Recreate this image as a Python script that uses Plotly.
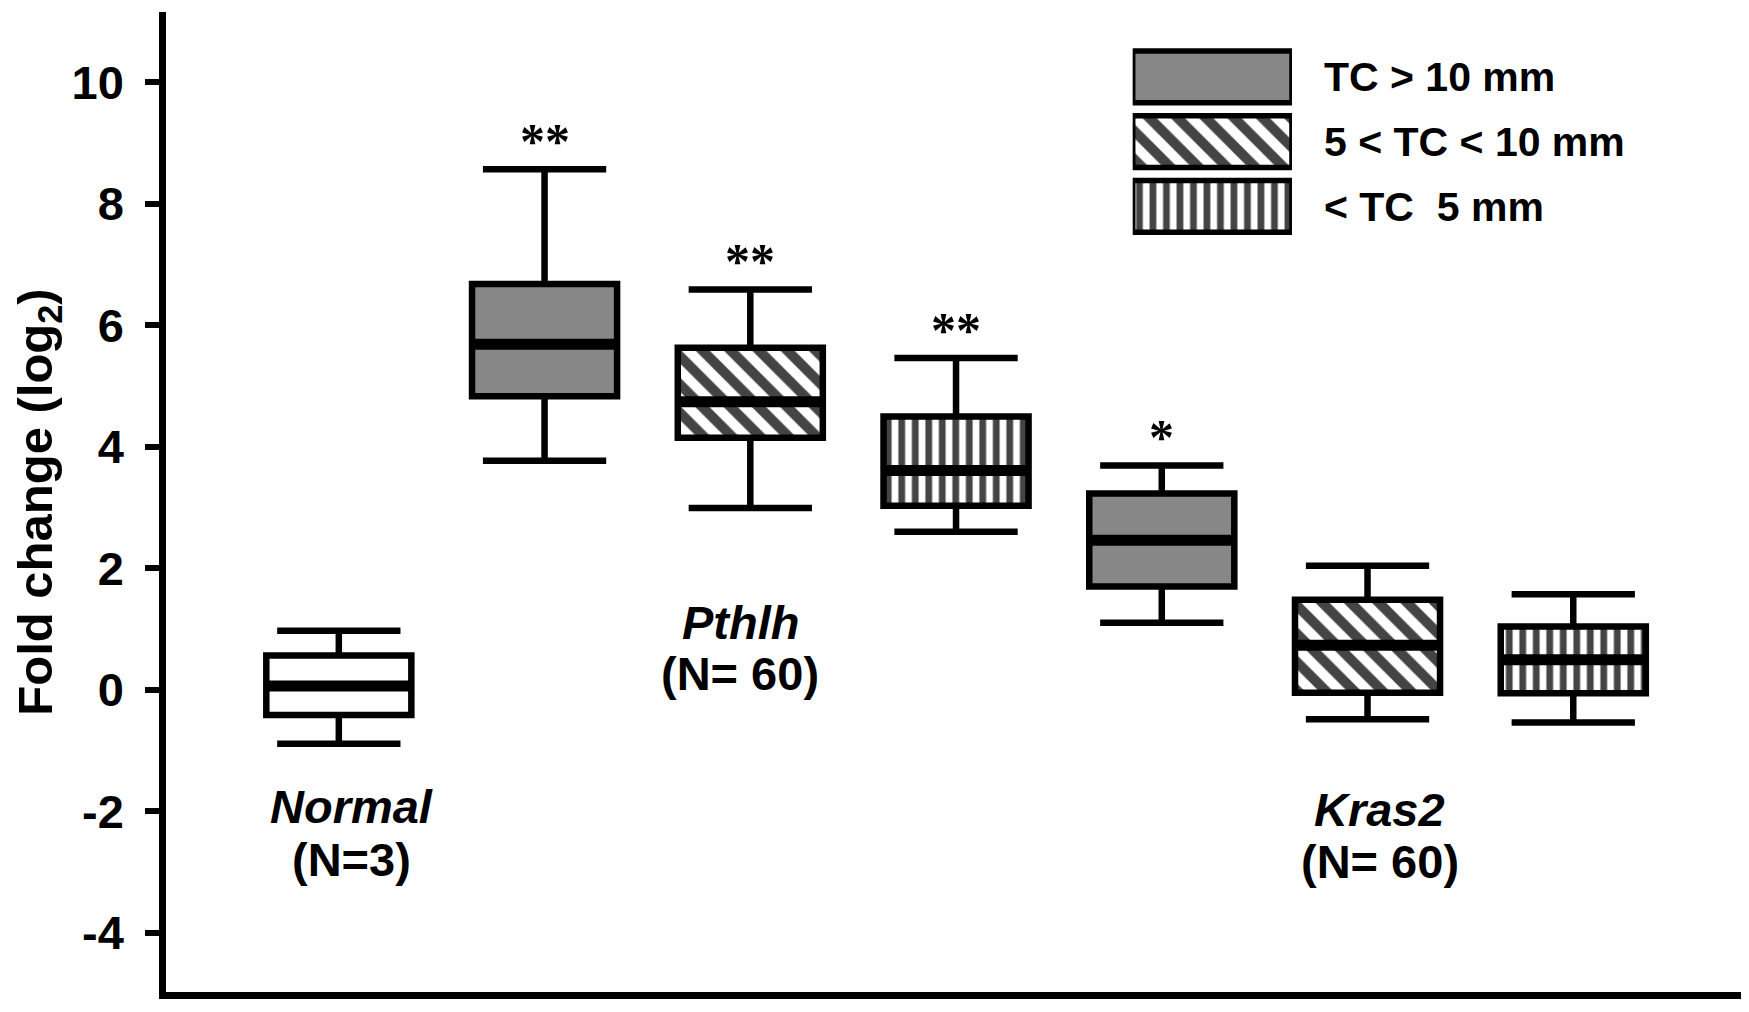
import plotly.graph_objects as go

# ---------------- data ----------------
categories = ["Normal", "Pthlh TC>10", "Pthlh 5<TC<10", "Pthlh TC<5",
              "Kras2 TC>10", "Kras2 5<TC<10", "Kras2 TC<5"]
upper_whisker = [0.97, 8.57, 6.59, 5.46, 3.69, 2.04, 1.57]
q3 = [0.56, 6.68, 5.63, 4.50, 3.23, 1.48, 1.04]
median = [0.06, 5.69, 4.74, 3.61, 2.46, 0.73, 0.49]
q1 = [-0.42, 4.83, 4.15, 3.03, 1.70, -0.05, -0.06]
lower_whisker = [-0.89, 3.77, 2.99, 2.60, 1.10, -0.49, -0.54]
size_class = ["normal", "gt10", "5to10", "lt5", "gt10", "5to10", "lt5"]
significance = ["", "**", "**", "**", "*", "", ""]

y_ticks = [-4, -2, 0, 2, 4, 6, 8, 10]

legend_keys = ["gt10", "5to10", "lt5"]
legend_labels = ["TC &gt; 10 mm", "5 &lt; TC &lt; 10 mm", "&lt; TC\u00a0 5 mm"]

group_names = ["Normal", "Pthlh", "Kras2"]
group_counts = ["(N=3)", "(N= 60)", "(N= 60)"]

# ---------------- styles ----------------
FONT = "Liberation Sans, Arial, Helvetica, sans-serif"
GREY = "#878787"
STYLE = {  # fill colour, pattern shape, pattern size
    "normal": ("white", "", 10),
    "gt10": (GREY, "", 10),
    "5to10": ("white", "\\", 20),
    "lt5": ("white", "|", 13.5),
}
BOX_W = 0.705
LINE_W = 6.5

positions = list(range(len(categories)))

fig = go.Figure()

# patterned box bodies
fig.add_trace(go.Bar(
    x=positions,
    y=[a - b for a, b in zip(q3, q1)],
    base=q1,
    width=BOX_W,
    marker=dict(
        color=[STYLE[s][0] for s in size_class],
        line=dict(width=0),
        pattern=dict(
            shape=[STYLE[s][1] for s in size_class],
            size=[STYLE[s][2] for s in size_class],
            solidity=0.5,
            fgcolor="black",
            fgopacity=1,
            fillmode="overlay",
        ),
    ),
    hoverinfo="skip",
))

# box outlines + whiskers
fig.add_trace(go.Box(
    x=positions,
    q1=q1, median=median, q3=q3,
    lowerfence=lower_whisker, upperfence=upper_whisker,
    width=BOX_W,
    whiskerwidth=0.85,
    fillcolor="rgba(0,0,0,0)",
    line=dict(color="black", width=LINE_W),
    boxpoints=False,
    hoverinfo="skip",
))

# thick median bars
mx, my = [], []
for p, m in zip(positions, median):
    mx += [p - BOX_W / 2, p + BOX_W / 2, None]
    my += [m, m, None]
fig.add_trace(go.Scatter(x=mx, y=my, mode="lines",
                         line=dict(color="black", width=11), hoverinfo="skip"))

# legend swatches on an inset axis
fig.add_trace(go.Bar(
    x=[1] * len(legend_keys),
    y=legend_labels,
    orientation="h",
    width=0.8,
    xaxis="x2", yaxis="y2",
    marker=dict(
        color=[STYLE[k][0] for k in legend_keys],
        line=dict(color="black", width=5.5),
        pattern=dict(
            shape=[STYLE[k][1] for k in legend_keys],
            size=[STYLE[k][2] for k in legend_keys],
            solidity=0.5,
            fgcolor="black",
            fgopacity=1,
            fillmode="overlay",
        ),
    ),
    hoverinfo="skip",
))

annotations = []
for p, u, s in zip(positions, upper_whisker, significance):
    if s:
        annotations.append(dict(x=p, y=u + 0.6, text=s, showarrow=False,
                                xref="x", yref="y", yanchor="middle", yshift=-8,
                                font=dict(family="Liberation Serif, Times New Roman, serif",
                                          size=50, color="black", weight="bold")))

group_pos = [(0.06, -1.92, -2.79), (1.95, 1.10, 0.27), (5.06, -1.97, -2.83)]
for (gx, y1, y2), name, n in zip(group_pos, group_names, group_counts):
    annotations.append(dict(x=gx, y=y1, text=f"<b><i>{name}</i></b>", showarrow=False,
                            xref="x", yref="y", font=dict(family=FONT, size=47, color="black")))
    annotations.append(dict(x=gx, y=y2, text=f"<b>{n}</b>", showarrow=False,
                            xref="x", yref="y", font=dict(family=FONT, size=47, color="black")))

fig.update_layout(
    width=1749, height=1012,
    margin=dict(l=158, r=14, t=4, b=28),
    plot_bgcolor="white", paper_bgcolor="white",
    showlegend=False,
    barmode="overlay", boxmode="overlay",
    font=dict(family=FONT, color="black"),
    xaxis=dict(range=[-0.84, 6.825], showline=True, linewidth=LINE_W, linecolor="black",
               showticklabels=False, ticks="", showgrid=False, zeroline=False),
    yaxis=dict(range=[-4.98, 11.16], tickvals=y_ticks, ticktext=[str(v) for v in y_ticks],
               showline=True, linewidth=LINE_W, linecolor="black",
               ticks="outside", ticklen=14, tickwidth=6, tickcolor="black",
               ticklabelstandoff=12,
               tickfont=dict(family=FONT, size=47, color="black", weight="bold"),
               showgrid=False, zeroline=False,
               title=dict(text="Fold change (log<sub>2</sub>)", standoff=6,
                          font=dict(family=FONT, size=49, color="black", weight="bold"))),
    xaxis2=dict(domain=[0.613, 0.714], anchor="y2", range=[0, 1], visible=False),
    yaxis2=dict(domain=[0.7687, 0.9667], anchor="x2", side="right", autorange="reversed",
                showgrid=False, showline=False, ticks="", zeroline=False,
                ticklabelstandoff=31,
                tickfont=dict(family=FONT, size=41, color="black", weight="bold")),
    annotations=annotations,
)

fig.write_html("out.html")
